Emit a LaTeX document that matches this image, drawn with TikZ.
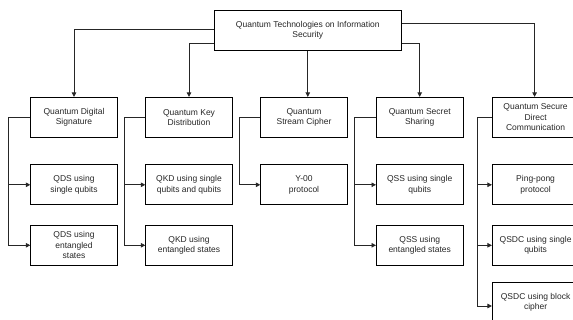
\documentclass[tikz,border=0pt]{standalone}
\usepackage{fontspec}
\setmainfont{Liberation Sans}
\usepackage{tikz}
\usetikzlibrary{arrows.meta}

\begin{document}
\begin{tikzpicture}[x=1pt,y=-1pt,>={Triangle[length=4.5pt,width=4.5pt]},
  line width=0.8pt]
 \tikzstyle{box} = [draw,black,rectangle,inner sep=2,minimum width=86.6,minimum height=40,
   align=center,text=black!85,font=\fontsize{8.5}{10.4}\selectfont]
 \tikzstyle{link} = [->,black!85]

 \useasboundingbox (0,0) rectangle (573,320);
 \clip (0,0) rectangle (573,320);

% Root
 \node[box,minimum width=187,minimum height=40.4] (top) at (307.8,30.5)
   {Quantum Technologies on Information\\Security};

% Main branches
 \node[box] (qds)  at (74,117.3)    {Quantum Digital\\Signature};
 \node[box] (qkd)  at (189,117.3)   {Quantum Key\\Distribution};
 \node[box] (qsc)  at (304,117.3)   {Quantum\\Stream Cipher};
 \node[box] (qss)  at (419.7,117.3) {Quantum Secret\\Sharing};
 \node[box] (qsdc) at (535.6,117.3) {Quantum Secure\\Direct\\Communication};

% Leaves
 \node[box] (qds1) at (74,184.8)  {QDS using\\single qubits};
 \node[box] (qds2) at (74,245.3)  {QDS using\\entangled\\states};
 \node[box] (qkd1) at (189,184.8) {QKD using single\\qubits and qubits};
 \node[box] (qkd2) at (189,245.3) {QKD using\\entangled states};
 \node[box] (qsc1) at (304,184.8) {Y-00\\protocol};
 \node[box] (qss1) at (419.7,184.8) {QSS using single\\qubits};
 \node[box] (qss2) at (419.7,245.3) {QSS using\\entangled states};
 \node[box] (qsdc1) at (535.6,184.8) {Ping-pong\\protocol};
 \node[box] (qsdc2) at (535.6,245.3) {QSDC using single\\qubits};
 \node[box] (qsdc3) at (535.6,302.5) {QSDC using block\\cipher};

% Root to branches
 \draw[link] ([yshift=1.5]top.west) -| (qds.north);
 \draw[link] ([yshift=-12.8]top.west) -| (qkd.north);
 \draw[link] (top.south) -- (top.south |- qsc.north);
 \draw[link] ([yshift=-12.8]top.east) -| (qss.north);
 \draw[link] ([yshift=7.2]top.east) -| ([xshift=-1]qsdc.north);

% Branches to leaves
 \draw[link] (qds.west) -- ++(-21.7,0) |- (qds1.west);
 \draw[link] (qds.west) -- ++(-21.7,0) |- (qds2.west);
 \draw[link] (qkd.west) -- ++(-21.4,0) |- (qkd1.west);
 \draw[link] (qkd.west) -- ++(-21.4,0) |- (qkd2.west);
 \draw[link] (qsc.west) -- ++(-20.7,0) |- (qsc1.west);
 \draw[link] (qss.west) -- ++(-22,0) |- (qss1.west);
 \draw[link] (qss.west) -- ++(-22,0) |- (qss2.west);
 \draw[link] (qsdc.west) -- ++(-15,0) |- (qsdc1.west);
 \draw[link] (qsdc.west) -- ++(-15,0) |- (qsdc2.west);
 \draw[link] (qsdc.west) -- ++(-15,0) |- ([yshift=-3.5]qsdc3.west);
\end{tikzpicture}
\end{document}
